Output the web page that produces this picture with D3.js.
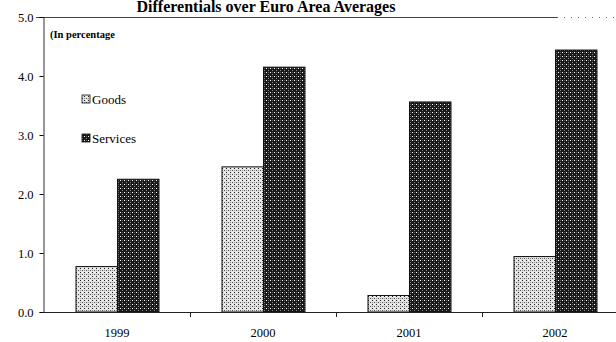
<!DOCTYPE html>
<html><head><meta charset="utf-8">
<script src="https://cdn.jsdelivr.net/npm/d3@7"></script>
<style>body{margin:0;background:#fff}svg{display:block} svg text{font-family:"Liberation Serif","Times New Roman","DejaVu Serif",serif;}</style>
</head><body>
<script>
const years = ["1999","2000","2001","2002"];
const series = ["Goods","Services"];
const goods = [0.77, 2.46, 0.28, 0.94];
const services = [2.25, 4.15, 3.56, 4.44];
const yTicks = [0,1,2,3,4,5];
const titleText = "Differentials over Euro Area Averages";
const noteText = "(In percentage";

const W=616,H=342;
const svg=d3.select("body").append("svg").attr("width",W).attr("height",H);
const defs=svg.append("defs");
const pg=defs.append("pattern").attr("id","pGoods").attr("width",4).attr("height",4).attr("patternUnits","userSpaceOnUse");
pg.append("rect").attr("width",4).attr("height",4).attr("fill","#e2e2e2");
pg.append("rect").attr("x",0).attr("y",0).attr("width",1).attr("height",1).attr("fill","#222");
pg.append("rect").attr("x",2).attr("y",2).attr("width",1).attr("height",1).attr("fill","#555");
pg.append("rect").attr("x",2).attr("y",0).attr("width",1).attr("height",1).attr("fill","#fff");
pg.append("rect").attr("x",0).attr("y",2).attr("width",1).attr("height",1).attr("fill","#999");
const ps=defs.append("pattern").attr("id","pServ").attr("width",4).attr("height",4).attr("patternUnits","userSpaceOnUse");
ps.append("rect").attr("width",4).attr("height",4).attr("fill","#1a1a1a");
ps.append("rect").attr("x",0).attr("y",0).attr("width",1).attr("height",1).attr("fill","#fff");
ps.append("rect").attr("x",2).attr("y",2).attr("width",1).attr("height",1).attr("fill","#888");
ps.append("rect").attr("x",2).attr("y",0).attr("width",1).attr("height",1).attr("fill","#555");

const x=d3.scaleBand().domain(years).range([44,628]).padding(0);
const xs=d3.scaleBand().domain(series).range([32,115]).padding(0);
const y=d3.scaleLinear().domain([0,5]).range([312,17]);
const fills={Goods:"url(#pGoods)",Services:"url(#pServ)"};
const data=years.map((yr,i)=>({yr,vals:[{s:"Goods",v:goods[i]},{s:"Services",v:services[i]}]}));

svg.append("text").attr("x",266).attr("y",12).attr("text-anchor","middle")
  .attr("font-weight","bold").attr("font-size",16).text(titleText);

svg.append("line").attr("x1",36).attr("x2",557).attr("y1",17.5).attr("y2",17.5).attr("stroke","#444").attr("stroke-width",1);
svg.append("line").attr("x1",557).attr("x2",616).attr("y1",17.5).attr("y2",17.5).attr("stroke","#666").attr("stroke-dasharray","1,6");

const ya=svg.append("g").attr("transform","translate(43.5,0)")
  .call(d3.axisLeft(y).tickValues(yTicks).tickSize(4).tickFormat(d3.format(".1f")));
ya.attr("font-family",null);
ya.select(".domain").attr("stroke","#333");
ya.selectAll("text").attr("font-size",12.5).attr("fill","#000").attr("x",-10);

const g=svg.append("g");
g.selectAll("g").data(data).join("g").attr("transform",d=>`translate(${x(d.yr)},0)`)
 .selectAll("rect").data(d=>d.vals).join("rect")
 .attr("x",d=>xs(d.s)).attr("width",xs.bandwidth())
 .attr("y",d=>y(d.v)).attr("height",d=>y(0)-y(d.v))
 .attr("fill",d=>fills[d.s]).attr("stroke","#111").attr("stroke-width",1);

svg.append("line").attr("x1",43).attr("x2",616).attr("y1",312.5).attr("y2",312.5).attr("stroke","#222");
svg.selectAll(".xt").data(years.slice(1)).join("line").attr("class","xt")
  .attr("x1",d=>x(d)+0.5).attr("x2",d=>x(d)+0.5).attr("y1",312).attr("y2",317).attr("stroke","#222");
svg.selectAll(".xl").data(years).join("text").attr("class","xl")
  .attr("x",d=>x(d)+x.bandwidth()/2).attr("y",337).attr("text-anchor","middle")
  .attr("font-size",12.5).text(d=>d);

svg.append("text").attr("x",50).attr("y",38).attr("font-size",10.5).attr("font-weight","bold").text(noteText);

const leg=svg.append("g");
series.forEach((s,i)=>{
  const yy=102+i*39;
  leg.append("rect").attr("x",82).attr("y",yy-7).attr("width",8).attr("height",8).attr("fill",fills[s]).attr("stroke","#111").attr("stroke-width",0.8);
  leg.append("text").attr("x",92).attr("y",yy+1.5).attr("font-size",13).text(s);
});
</script>
</body></html>
